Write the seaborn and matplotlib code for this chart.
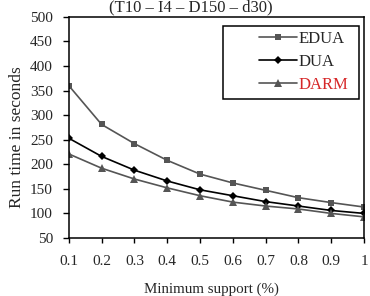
import numpy as np
import pandas as pd
import matplotlib
matplotlib.use('Agg')
import matplotlib.pyplot as plt
import matplotlib.patches as mpatches
import seaborn as sns

##################################################################
support = [0.1, 0.2, 0.3, 0.4, 0.5, 0.6, 0.7, 0.8, 0.9, 1.0]
edua = [360, 281, 242, 208, 180, 162, 147, 132, 122, 113]
dua = [253, 216, 188, 166, 148, 136, 124, 115, 106, 100]
darm = [221, 192, 170, 152, 136, 123, 115, 109, 100, 93]
series_names = ['EDUA', 'DUA', 'DARM']
x_ticklabels = ['0.1', '0.2', '0.3', '0.4', '0.5', '0.6', '0.7', '0.8', '0.9', '1']
y_ticks = [50, 100, 150, 200, 250, 300, 350, 400, 450, 500]

##################################################################
df = pd.DataFrame({'support': support * 3,
                   'time': edua + dua + darm,
                   'algo': np.repeat(series_names, len(support))})

sns.set_style('ticks')
plt.rcParams['font.family'] = ['Liberation Serif', 'DejaVu Serif']

fig = plt.figure(figsize=(3.7, 2.96), dpi=100)
ax = fig.add_axes([0.186, 0.196, 0.798, 0.747])

colors = {'EDUA': '#555555', 'DUA': '#000000', 'DARM': '#555555'}
markers = {'EDUA': 's', 'DUA': 'D', 'DARM': '^'}
sizes = {'EDUA': 4.5, 'DUA': 4, 'DARM': 5.5}
for name in series_names:
    sub = df[df['algo'] == name]
    sns.lineplot(data=sub, x='support', y='time', ax=ax, color=colors[name],
                 marker=markers[name], markersize=sizes[name], markeredgewidth=0,
                 linewidth=1.2, label=name)

ax.set_xlim(0.1, 1.0)
ax.set_ylim(50, 500)
ax.set_xticks(support)
ax.set_xticklabels(x_ticklabels)
ax.set_yticks(y_ticks)
ax.tick_params(axis='both', labelsize=11, width=1, direction='out', color='black')
ax.tick_params(axis='y', length=4, pad=7.5)
ax.tick_params(axis='x', length=3.5, pad=9)
for s in ax.spines.values():
    s.set_linewidth(1.1)
    s.set_color('black')

ax.set_xlabel('Minimum support (%)', fontsize=10.8)
ax.xaxis.set_label_coords(0.483, -0.2)
ax.set_ylabel('Run time in seconds', fontsize=12.5)
ax.yaxis.set_label_coords(-0.15, 0.457)

# legend box drawn separately (box is wider than its entries)
ax.add_patch(mpatches.Rectangle((0.522, 0.629), 0.461, 0.33, transform=ax.transAxes,
                                fill=True, facecolor='white', edgecolor='black',
                                linewidth=1.1, zorder=4))
leg = ax.legend(loc='upper left', bbox_to_anchor=(0.644, 0.935), fontsize=12,
                frameon=False, handlelength=2.3, handletextpad=0.05,
                borderpad=0, borderaxespad=0, labelspacing=0.4)
leg.set_zorder(5)
for t in leg.get_texts():
    if t.get_text() == 'DARM':
        t.set_color('#d62728')

fig.text(0.516, 0.975, '(T10 \u2013 I4 \u2013 D150 \u2013 d30)', ha='center', va='center', fontsize=12)

plt.savefig('out.png', dpi=100)
